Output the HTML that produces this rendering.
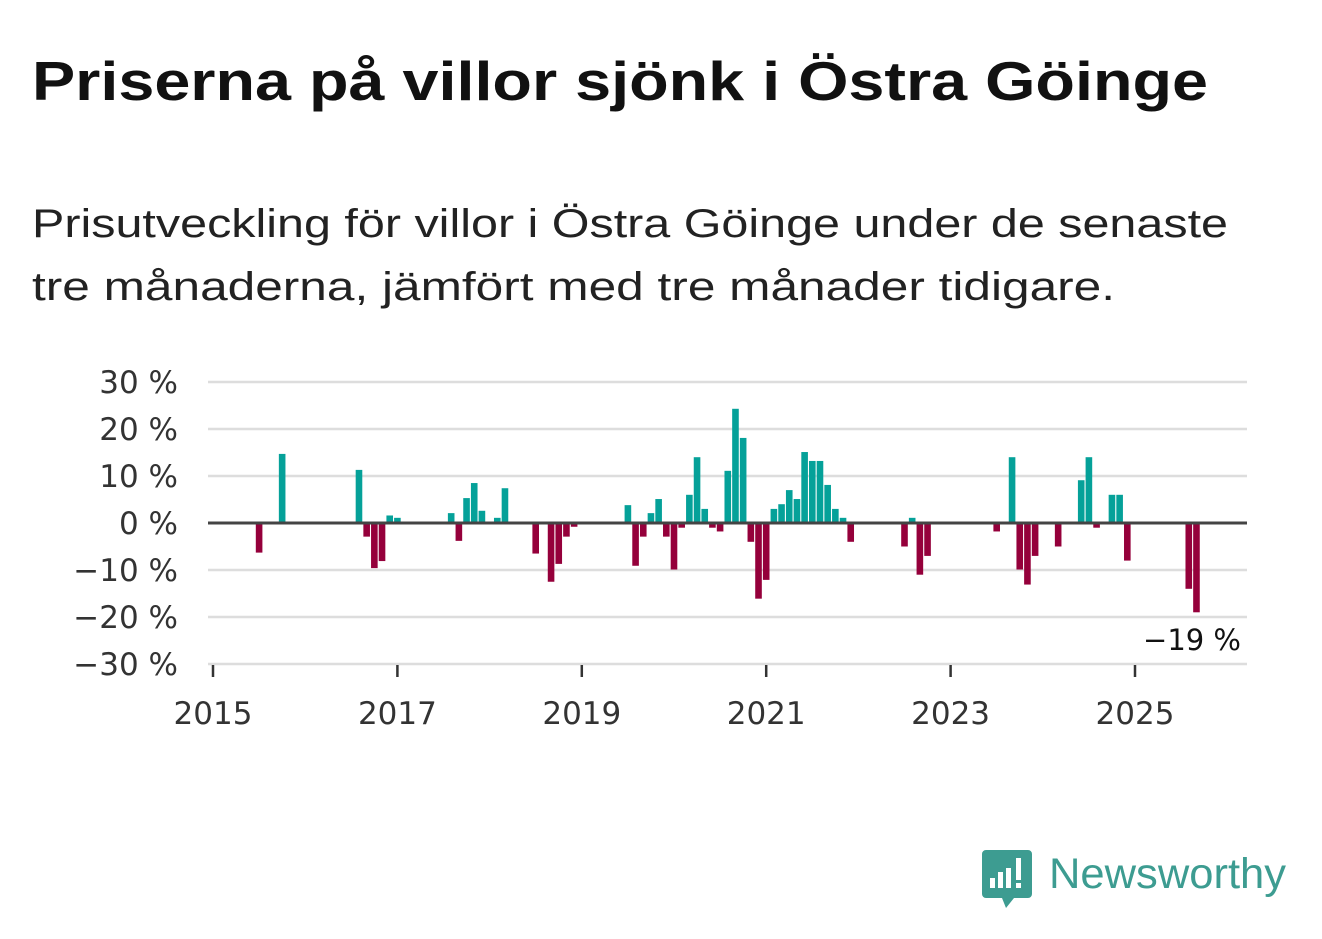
<!DOCTYPE html>
<html><head><meta charset="utf-8"><style>
body{margin:0;background:#fff;width:1322px;height:939px;overflow:hidden;font-family:"Liberation Sans",sans-serif;}
svg{display:block}
</style></head><body>
<svg width="1322" height="939">
<text x="32" y="100" font-size="55" font-weight="bold" fill="#111" textLength="1176" lengthAdjust="spacingAndGlyphs">Priserna på villor sjönk i Östra Göinge</text>
<text x="32" y="237" font-size="40" fill="#222" textLength="1196" lengthAdjust="spacingAndGlyphs">Prisutveckling för villor i Östra Göinge under de senaste</text>
<text x="32" y="300" font-size="40" fill="#222" textLength="1083" lengthAdjust="spacingAndGlyphs">tre månaderna, jämfört med tre månader tidigare.</text>
<g id="grid"></g><g id="bars"></g><g id="axes"></g>
<text x="1241" y="650" font-size="29" fill="#111" text-anchor="end" font-family="DejaVu Sans, sans-serif">−19 %</text>
<g>
<path d="M986 850 h42 a4 4 0 0 1 4 4 v40 a4 4 0 0 1 -4 4 h-14 l-8 10 l-4 -10 h-16 a4 4 0 0 1 -4 -4 v-40 a4 4 0 0 1 4 -4z" fill="#3d9c91"/>
<rect x="990" y="878" width="5" height="10" fill="#fff"/><rect x="998" y="872" width="5" height="16" fill="#fff"/><rect x="1006" y="868" width="5" height="20" fill="#fff"/><rect x="1016" y="858" width="5" height="22" fill="#fff"/><rect x="1016" y="883" width="5" height="5" fill="#fff"/>
<text x="1049" y="888" font-size="43" fill="#3d9c91" textLength="237" lengthAdjust="spacingAndGlyphs">Newsworthy</text>
</g>
</svg>
<script>
const startYear = 2015;
const values = [
0,0,0,0,0,0,-6.3,0,0,14.7,0,0,
0,0,0,0,0,0,0,11.3,-2.9,-9.6,-8.1,1.6,
1.1,0,0,0,0,0,0,2.1,-3.8,5.3,8.5,2.6,
0,1.1,7.4,0,0,0,-6.5,0,-12.5,-8.7,-2.9,-0.8,
0,0,0,0,0,0,3.8,-9.1,-2.9,2.1,5.1,-2.9,
-9.9,-1.0,6.0,14.0,3.0,-1.0,-1.8,11.1,24.3,18.1,-4.0,-16.1,
-12.1,3.0,4.0,7.0,5.1,15.1,13.2,13.2,8.1,3.0,1.1,-4.0,
0,0,0,0,0,0,-5.0,1.1,-11.0,-7.0,0,0,
0,0,0,0,0,0,-1.8,0,14.0,-9.9,-13.1,-7.0,
0,0,-5.0,0,0,9.1,14.0,-1.0,0,6.0,6.0,-8.0,
0,0,0,0,0,0,0,-14.0,-19.0
];
const yTicks = [30,20,10,0,-10,-20,-30];
const yTickLabels = ["30 %","20 %","10 %","0 %","−10 %","−20 %","−30 %"];
const xTicks = [2015,2017,2019,2021,2023,2025];

const NS="http://www.w3.org/2000/svg";
const x0=213, monthW=(1135-213)/120, yZero=523, pxPer=4.7;
const xScale=i=>x0+i*monthW;
const yScale=v=>yZero-v*pxPer;
function mk(tag,attrs,parent){const e=document.createElementNS(NS,tag);for(const k in attrs)e.setAttribute(k,attrs[k]);parent.appendChild(e);return e;}
const grid=document.getElementById('grid'),bars=document.getElementById('bars'),axes=document.getElementById('axes');
yTicks.forEach((t,i)=>{
  if(t!==0){const l=mk('line',{x1:208,x2:1247,y1:yScale(t),y2:yScale(t),stroke:'#ddd','stroke-width':2.5},grid);
  
  }
  const tx=mk('text',{x:178,y:yScale(t)+11,'font-size':31,fill:'#333','text-anchor':'end','font-family':'DejaVu Sans, sans-serif'},axes);
  tx.textContent=yTickLabels[i];
  
  
});
values.forEach((v,i)=>{
  if(v===0)return;
  const r=mk('rect',{x:xScale(i)-3.3,width:6.6,y:Math.min(yScale(v),yZero),height:Math.abs(v*pxPer),fill:v>0?'#05a199':'#95003b'},bars);
  
  
});
const zl=mk('line',{x1:208,x2:1247,y1:yZero,y2:yZero,stroke:'#444','stroke-width':3},axes);


xTicks.forEach(y=>{
  const x=xScale((y-startYear)*12);
  const t=mk('line',{x1:x,x2:x,y1:665,y2:677,stroke:'#333','stroke-width':2.5},axes);
  
  
  const tx=mk('text',{x:x,y:724,'font-size':31,fill:'#333','text-anchor':'middle','font-family':'DejaVu Sans, sans-serif'},axes);
  tx.textContent=y;
  
  
});
</script>
</body></html>
